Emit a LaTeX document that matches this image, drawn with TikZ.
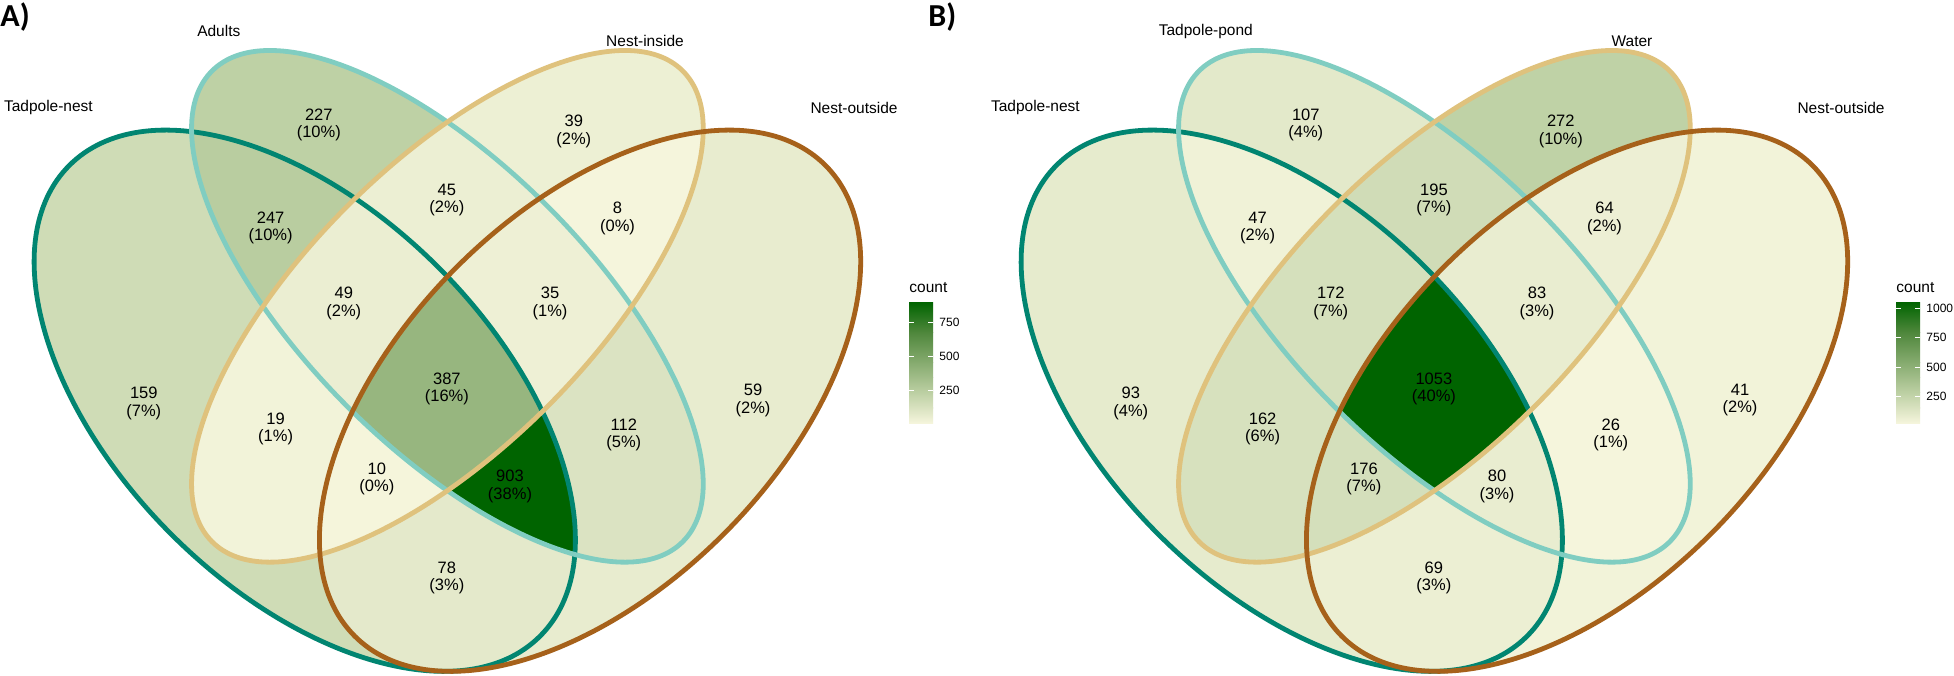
\documentclass[tikz,border=0pt]{standalone}
\usepackage{fontspec}
\setmainfont{Liberation Sans}
\newfontfamily\pfont{Carlito}
\definecolor{cT}{HTML}{018571}
\definecolor{cA}{HTML}{80CDC1}
\definecolor{cI}{HTML}{DFC27D}
\definecolor{cO}{HTML}{A6611A}
\definecolor{k0}{RGB}{245,245,220}
\definecolor{k1}{RGB}{217,226,192}
\definecolor{k2}{RGB}{189,208,164}
\definecolor{k3}{RGB}{161,189,137}
\definecolor{k4}{RGB}{134,171,111}
\definecolor{k6}{RGB}{79,135,60}
\definecolor{k8}{RGB}{0,100,0}
\newcommand\clT{\clip[rotate around={135:(0.35,0.47)}] (0.35,0.47) ellipse [x radius=0.35, y radius=0.2];}
\newcommand\clA{\clip[rotate around={135:(0.5,0.57)}] (0.5,0.57) ellipse [x radius=0.35, y radius=0.15];}
\newcommand\clI{\clip[rotate around={45:(0.5,0.57)}] (0.5,0.57) ellipse [x radius=0.35, y radius=0.15];}
\newcommand\clO{\clip[rotate around={45:(0.65,0.47)}] (0.65,0.47) ellipse [x radius=0.35, y radius=0.2];}
\newcommand\reg[2]{\begin{scope}#1\definecolor{tmpc}{RGB}{#2}\fill[tmpc] (0,0) rectangle (1,1);\end{scope}}
\newcommand\outlines{%
\draw[ol,cT,rotate around={135:(0.35,0.47)}] (0.35,0.47) ellipse [x radius=0.35, y radius=0.2];
\draw[ol,cA,rotate around={135:(0.5,0.57)}] (0.5,0.57) ellipse [x radius=0.35, y radius=0.15];
\draw[ol,cI,rotate around={45:(0.5,0.57)}] (0.5,0.57) ellipse [x radius=0.35, y radius=0.15];
\draw[ol,cO,rotate around={45:(0.65,0.47)}] (0.65,0.47) ellipse [x radius=0.35, y radius=0.2];}
\newcommand\legendbar[1]{%
\begin{scope}[xshift=#1*0.5pt]
\shade[bottom color=k0,top color=k1] (909,423) rectangle (933,407.9);
\shade[bottom color=k1,top color=k2] (909,408.0) rectangle (933,392.75);
\shade[bottom color=k2,top color=k3] (909,392.85) rectangle (933,377.6);
\shade[bottom color=k3,top color=k4] (909,377.7) rectangle (933,362.5);
\shade[bottom color=k4,top color=k6] (909,362.6) rectangle (933,332.25);
\shade[bottom color=k6,top color=k8] (909,332.35) rectangle (933,302);
\end{scope}}
\begin{document}
\begin{tikzpicture}[x=0.5pt,y=-0.5pt,
  ol/.style={line width=2.4pt},
  lab/.style={font=\fontsize{8.25}{8.7}\selectfont, align=center, inner sep=0pt},
  setlab/.style={font=\fontsize{7.75}{9}\selectfont, inner sep=0pt},
  legt/.style={font=\fontsize{7.75}{9}\selectfont, inner sep=0pt, anchor=west},
  tickl/.style={font=\fontsize{6}{7}\selectfont, inner sep=0pt, anchor=west},
  tickm/.style={white, line width=0.5pt},
  panel/.style={font=\pfont\bfseries\fontsize{16}{18}\selectfont, inner sep=0pt, anchor=north west}]
\useasboundingbox[fill=white] (0,0) rectangle (1954,675);

% ---------------- Panel A ----------------
\begin{scope}[shift={(-28.1,844.4)}, x=475.5pt, y=472pt]
\reg{\clT}{207,220,182}
\reg{\clA}{190,209,165}
\reg{\clI}{237,240,212}
\reg{\clO}{232,236,207}
\reg{\clT\clA}{185,205,160}
\reg{\clT\clI}{242,243,217}
\reg{\clT\clO}{228,233,203}
\reg{\clA\clI}{236,239,211}
\reg{\clA\clO}{219,227,194}
\reg{\clI\clO}{245,245,220}
\reg{\clT\clA\clI}{235,238,210}
\reg{\clT\clA\clO}{0,100,0}
\reg{\clT\clI\clO}{245,245,219}
\reg{\clA\clI\clO}{238,240,213}
\reg{\clT\clA\clI\clO}{151,182,127}
\outlines
\end{scope}
\node[lab] (a227) at (318.8,124.8) {227\\(10\%)};
\node[lab] (a39) at (573.8,131.3) {39\\(2\%)};
\node[lab] (a45) at (446.9,200.2) {45\\(2\%)};
\node[lab] (a8) at (617.5,218.3) {8\\(0\%)};
\node[lab] (a247) at (270.6,228.2) {247\\(10\%)};
\node[lab] (a49) at (343.8,303.5) {49\\(2\%)};
\node[lab] (a35) at (550,303.5) {35\\(1\%)};
\node[lab] (a387) at (446.9,388.7) {387\\(16\%)};
\node[lab] (a159) at (143.8,403.4) {159\\(7\%)};
\node[lab] (a59) at (753,400.3) {59\\(2\%)};
\node[lab] (a19) at (275.6,429.2) {19\\(1\%)};
\node[lab] (a112) at (623.8,434.8) {112\\(5\%)};
\node[lab] (a10) at (376.9,478.7) {10\\(0\%)};
\node[lab] (a903) at (510,486.4) {903\\(38\%)};
\node[lab] (a78) at (446.9,577.7) {78\\(3\%)};
\node[setlab] (sa1) at (48.4,107.6) {Tadpole-nest};
\node[setlab] (sa2) at (218.8,31) {Adults};
\node[setlab] (sa3) at (645,40.9) {Nest-inside};
\node[setlab] (sa4) at (854,107.6) {Nest-outside};
\node[panel] (pA) at (0,2) {A)};
% legend A
\node[legt] (lgA) at (909,288) {count};
\legendbar{0}
\foreach \yy/\tt in {322.7/750,356.5/500,390.3/250}{
  \draw[tickm] (909,\yy) -- (914,\yy);
  \draw[tickm] (928,\yy) -- (933,\yy);
  \node[tickl] at (939,\yy) {\tt};
}

% ---------------- Panel B ----------------
\begin{scope}[shift={(958.9,844.4)}, x=475.5pt, y=472pt]
\reg{\clT}{230,235,205}
\reg{\clA}{227,233,202}
\reg{\clI}{191,210,166}
\reg{\clO}{242,243,217}
\reg{\clT\clA}{240,242,215}
\reg{\clT\clI}{215,225,190}
\reg{\clT\clO}{236,239,211}
\reg{\clA\clI}{208,220,183}
\reg{\clA\clO}{245,245,220}
\reg{\clI\clO}{237,239,212}
\reg{\clT\clA\clI}{213,224,188}
\reg{\clT\clA\clO}{233,237,208}
\reg{\clT\clI\clO}{212,223,187}
\reg{\clA\clI\clO}{233,237,208}
\reg{\clT\clA\clI\clO}{0,100,0}
\outlines
\end{scope}
\node[lab] (b107) at (1305.8,124.8) {107\\(4\%)};
\node[lab] (b272) at (1560.8,131.3) {272\\(10\%)};
\node[lab] (b195) at (1433.9,200.2) {195\\(7\%)};
\node[lab] (b64) at (1604.5,218.3) {64\\(2\%)};
\node[lab] (b47) at (1257.6,228.2) {47\\(2\%)};
\node[lab] (b172) at (1330.8,303.5) {172\\(7\%)};
\node[lab] (b83) at (1537,303.5) {83\\(3\%)};
\node[lab] (b1053) at (1433.9,388.7) {1053\\(40\%)};
\node[lab] (b93) at (1130.8,403.4) {93\\(4\%)};
\node[lab] (b41) at (1740,400.3) {41\\(2\%)};
\node[lab] (b162) at (1262.6,429.2) {162\\(6\%)};
\node[lab] (b26) at (1610.8,434.8) {26\\(1\%)};
\node[lab] (b176) at (1363.9,478.7) {176\\(7\%)};
\node[lab] (b80) at (1497,486.4) {80\\(3\%)};
\node[lab] (b69) at (1433.9,577.7) {69\\(3\%)};
\node[setlab] (sb1) at (1035.4,107.6) {Tadpole-nest};
\node[setlab] (sb2) at (1205.8,31) {Tadpole-pond};
\node[setlab] (sb3) at (1632,40.9) {Water};
\node[setlab] (sb4) at (1841,107.6) {Nest-outside};
\node[panel] (pB) at (928,2) {B)};
% legend B
\node[legt] (lgB) at (1896,288) {count};
\legendbar{987}
\foreach \yy/\tt in {308.2/1000,337.7/750,367.2/500,396.6/250}{
  \draw[tickm] (1896,\yy) -- (1901,\yy);
  \draw[tickm] (1915,\yy) -- (1920,\yy);
  \node[tickl] at (1926,\yy) {\tt};
}
\end{tikzpicture}
\end{document}
